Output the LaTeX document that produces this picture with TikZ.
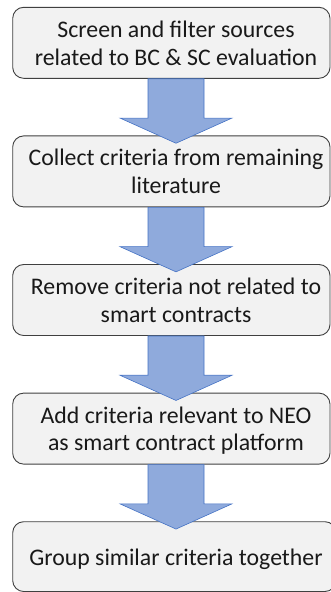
\documentclass[tikz,border=0pt]{standalone}
\usepackage{fontspec}
\setmainfont{Carlito}
\definecolor{boxfill}{HTML}{F2F2F2}
\definecolor{boxline}{HTML}{404040}
\definecolor{arrowfill}{HTML}{8FAADC}
\definecolor{arrowline}{HTML}{4472C4}
% strut giving each text line a fixed height and depth
\newcommand\ls{\rule[-5.5pt]{0pt}{27.7pt}}
\begin{document}
\begin{tikzpicture}[x=1pt,y=-1pt,
  stepbox/.style={draw=boxline, fill=boxfill, line width=0.9pt,
    rounded corners=11pt, inner sep=0pt, minimum height=71pt, minimum width=317.3pt},
  steptext/.style={inner sep=0pt, align=center, text=black!90,
    font=\fontsize{23.8}{27.7}\selectfont},
  blockarrow/.style={draw=arrowline, fill=arrowfill, line width=0.6pt, line join=miter}]
\useasboundingbox (0,0) rectangle (331,592);
\clip (0,0) rectangle (331,592);

% process steps
\node[stepbox] (b1) at (171.35,42.8) {};
\node[stepbox] (b2) at (171.35,171.4) {};
\node[stepbox] (b3) at (171.35,300.0) {};
\node[stepbox] (b4) at (171.35,428.6) {};
\node[stepbox, minimum width=323.3pt, minimum height=69.8pt] (b5) at (174.35,556.6) {};

\node[steptext] (t1) at (176,42.8) {\ls Screen and filter sources\\\ls related to BC \& SC evaluation};
\node[steptext] (t2) at (176,171.4) {\ls Collect criteria from remaining\\\ls literature};
\node[steptext] (t3) at (176,300.0) {\ls Remove criteria not related to\\\ls smart contracts};
\node[steptext] (t4) at (176,428.6) {\ls Add criteria relevant to NEO\\\ls as smart contract platform};
\node[steptext] (t5) at (176,557.2) {\ls Group similar criteria together};

% block arrows between consecutive steps
\foreach \i in {1,2,3,4}{
  \coordinate (a\i) at (b\i.south -| t\i.center);
  \draw[blockarrow] ([xshift=-28pt]a\i) -- ++(0,39.3) -- ++(-28,0) -- ++(56,25.2)
    -- ++(56,-25.2) -- ++(-28,0) -- ++(0,-39.3) -- cycle;
}
\end{tikzpicture}
\end{document}
